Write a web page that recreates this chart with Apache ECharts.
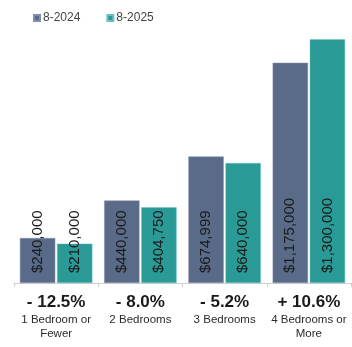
<!DOCTYPE html>
<html>
<head>
<meta charset="utf-8">
<script src="https://cdn.jsdelivr.net/npm/echarts@6/dist/echarts.min.js"></script>
<style>
  html, body { margin: 0; padding: 0; background: #fff; }
  #chart { width: 352px; height: 347px; }
</style>
</head>
<body>
<div id="chart"></div>
<script>
// data
const categories = ['1 Bedroom or\nFewer', '2 Bedrooms', '3 Bedrooms', '4 Bedrooms or\nMore'];
const changes = ['- 12.5%', '- 8.0%', '- 5.2%', '+ 10.6%'];
const prices2024 = [240000, 440000, 674999, 1175000];
const prices2025 = [210000, 404750, 640000, 1300000];

const chart = echarts.init(document.getElementById('chart'));

const fmtMoney = v => '$' + v.toLocaleString('en-US');

const barLabel = {
  show: true,
  position: 'insideBottom',
  distance: 10,
  rotate: 90,
  align: 'left',
  verticalAlign: 'middle',
  color: '#1a1a1a',
  fontFamily: 'Liberation Sans, Arial, sans-serif',
  fontSize: 15,
  formatter: p => fmtMoney(p.value)
};

const option = {
  animation: false,
  textStyle: { fontFamily: 'Liberation Sans, Arial, sans-serif' },
  legend: {
    left: 28,
    top: 7,
    itemWidth: 6,
    itemHeight: 6,
    itemGap: 26,
    icon: 'rect',
    textStyle: { color: '#444', fontSize: 12, padding: [0, 0, 0, -2] },
    data: ['8-2024', '8-2025']
  },
  grid: { left: 14, right: 1, top: 30, bottom: 64 },
  xAxis: {
    type: 'category',
    data: categories,
    axisLine: { lineStyle: { color: '#cfcfcf' } },
    axisTick: { show: true, length: 4, lineStyle: { color: '#cfcfcf' } },
    axisLabel: {
      interval: 0,
      margin: 8,
      formatter: (val, i) => {
        const lines = val.split('\n').map(s => '{name|' + s + '}').join('\n');
        return '{pct|' + changes[i] + '}\n' + lines;
      },
      rich: {
        pct: { fontSize: 17, fontWeight: 'bold', color: '#1a1a1a', lineHeight: 22 },
        name: { fontSize: 11.5, color: '#2a2a2a', lineHeight: 14 }
      }
    }
  },
  yAxis: {
    type: 'value',
    min: 0,
    max: 1350000,
    show: false,
    splitLine: { show: false }
  },
  series: [
    {
      name: '8-2024',
      type: 'bar',
      data: prices2024,
      barGap: '5%',
      barCategoryGap: '14%',
      itemStyle: { color: '#5a6b8a', borderColor: '#8090aa', borderWidth: 0.5 },
      label: barLabel
    },
    {
      name: '8-2025',
      type: 'bar',
      data: prices2025,
      itemStyle: { color: '#2a9a97', borderColor: '#6cc0bd', borderWidth: 0.5 },
      label: barLabel
    }
  ]
};

chart.setOption(option);
</script>
</body>
</html>
